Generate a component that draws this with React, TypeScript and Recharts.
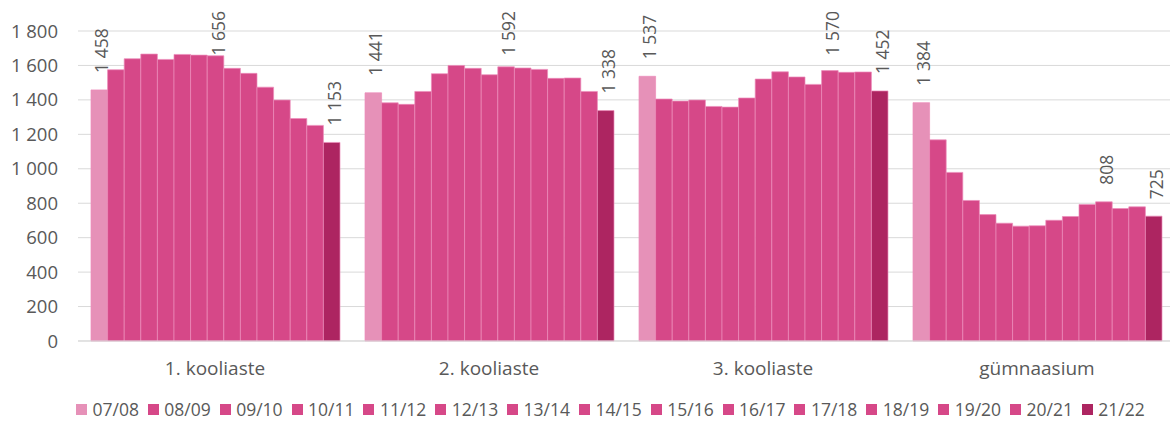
import React from "react";
import { BarChart, Bar, XAxis, YAxis, CartesianGrid, Legend, LabelList } from "recharts";

const categories = ["1. kooliaste", "2. kooliaste", "3. kooliaste", "gümnaasium"];
const seasons = ["07/08", "08/09", "09/10", "10/11", "11/12", "12/13", "13/14", "14/15", "15/16", "16/17", "17/18", "18/19", "19/20", "20/21", "21/22"];

const kooliaste1 = [1458, 1575, 1639, 1666, 1635, 1664, 1660, 1656, 1583, 1554, 1474, 1399, 1292, 1252, 1153];
const kooliaste2 = [1441, 1383, 1374, 1449, 1552, 1600, 1583, 1546, 1592, 1585, 1577, 1525, 1527, 1449, 1338];
const kooliaste3 = [1537, 1405, 1393, 1399, 1362, 1358, 1411, 1521, 1563, 1533, 1490, 1570, 1560, 1562, 1452];
const gymnaasium = [1384, 1168, 979, 816, 734, 684, 667, 669, 701, 723, 793, 808, 769, 779, 725];

// season that carries a value label in each category (besides first and last)
const peakLabelSeason = ["14/15", "15/16", "18/19", "18/19"];

const yTicks = [0, 200, 400, 600, 800, 1000, 1200, 1400, 1600, 1800];

const valuesByCategory = [kooliaste1, kooliaste2, kooliaste3, gymnaasium];

const data = categories.map((cat, ci) => {
  const row: Record<string, string | number> = { category: cat };
  seasons.forEach((s, si) => {
    row[s] = valuesByCategory[ci][si];
  });
  return row;
});

const LIGHT = "#e691b8";
const MID = "#d64888";
const DARK = "#ad2561";
const colorFor = (i: number) => (i === 0 ? LIGHT : i === seasons.length - 1 ? DARK : MID);

const TEXT = "#595959";
const FONT = "'Open Sans', sans-serif";

const fmt = (v: number) => {
  const s = String(Math.round(v));
  return s.length > 3 ? s.slice(0, s.length - 3) + " " + s.slice(-3) : s;
};

const shouldLabel = (season: string, index: number) =>
  season === seasons[0] || season === seasons[seasons.length - 1] || peakLabelSeason[index] === season;

const makeLabel = (season: string) => (props: any) => {
  const { x, y, width, value, index } = props;
  if (!shouldLabel(season, index)) return null;
  const cx = Number(x) + Number(width) / 2 + 2;
  const top = Number(y);
  const text = fmt(Number(value));
  const estLen = text.length * 9;
  let ty = top - 17;
  let anchor: "start" | "end" = "start";
  if (ty - estLen < 10) {
    ty = 11;
    anchor = "end";
  }
  return (
    <text
      x={cx}
      y={ty}
      transform={`rotate(-90, ${cx}, ${ty})`}
      textAnchor={anchor}
      dominantBaseline="central"
      fill={TEXT}
      fontSize={17.5}
      fontFamily={FONT}
    >
      {text}
    </text>
  );
};

const renderLegend = () => (
  <div
    style={{
      display: "flex",
      justifyContent: "flex-start",
      alignItems: "center",
      height: 24,
      paddingLeft: 76,
      fontFamily: FONT,
      fontSize: 17.5,
      lineHeight: "24px",
      color: TEXT,
      whiteSpace: "nowrap",
    }}
  >
    {seasons.map((s, i) => (
      <div key={s} style={{ display: "flex", alignItems: "center", marginRight: i === seasons.length - 1 ? 0 : 8.9 }}>
        <span style={{ display: "inline-block", width: 11, height: 11, background: colorFor(i), marginRight: 5.5 }} />
        <span>{s}</span>
      </div>
    ))}
  </div>
);

export default function App() {
  return (
    <div style={{ position: "absolute", left: 0, top: 0, width: 1170, height: 421, overflow: "hidden", background: "#fff" }}>
      <BarChart
        width={1185}
        height={421}
        data={data}
        margin={{ top: 31, right: 11, left: 0, bottom: 0 }}
        barGap={0}
      >
        <CartesianGrid vertical={false} stroke="#d9d9d9" strokeWidth={1} />
        <XAxis
          dataKey="category"
          axisLine={{ stroke: "#d9d9d9" }}
          tickLine={false}
          height={56}
          tickMargin={15}
          tick={{ fill: TEXT, fontSize: 19, fontFamily: FONT }}
        />
        <YAxis
          width={78}
          domain={[0, 1800]}
          ticks={yTicks}
          axisLine={false}
          tickLine={false}
          tickMargin={14}
          tickFormatter={(v: number) => fmt(v)}
          tick={{ fill: TEXT, fontSize: 18.5, fontFamily: FONT }}
        />
        <Legend verticalAlign="bottom" content={renderLegend} wrapperStyle={{ left: 0, width: 1185, bottom: 0 }} />
        {seasons.map((s, i) => (
          <Bar
            key={s}
            dataKey={s}
            fill={colorFor(i)}
            stroke="#ec8cba"
            strokeWidth={0.7}
            barSize={16.6}
            isAnimationActive={false}
          >
            <LabelList dataKey={s} content={makeLabel(s)} />
          </Bar>
        ))}
      </BarChart>
    </div>
  );
}
